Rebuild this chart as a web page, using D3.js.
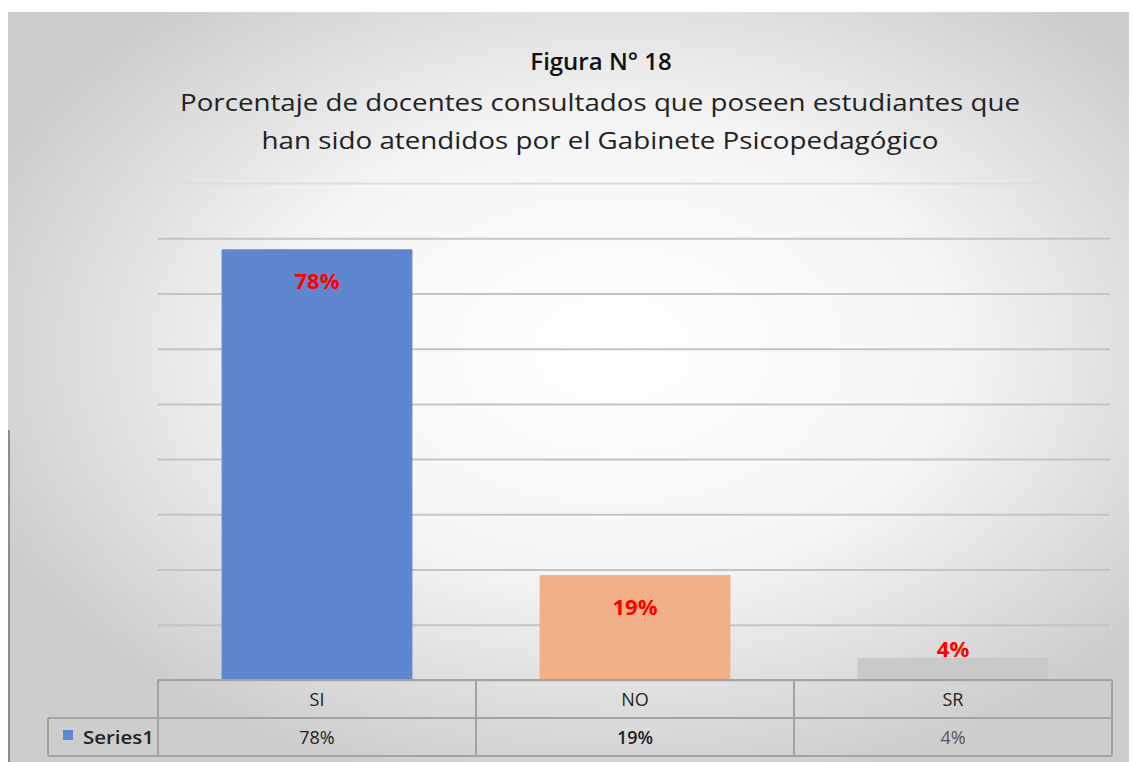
<!DOCTYPE html>
<html>
<head>
<meta charset="utf-8">
<script src="https://cdn.jsdelivr.net/npm/d3@7"></script>
<style>
  body { margin: 0; background: #fff; }
  svg { display: block; font-family: "Open Sans", sans-serif; }
</style>
</head>
<body>
<div id="chart1"></div>
<script>
// data
var categories = ["SI", "NO", "SR"];
var values = [0.78, 0.19, 0.04];
var valueLabels = ["78%", "19%", "4%"];
var barColors = ["#5f87d0", "#f1b087", "#c9c9c9"];
var seriesName = "Series1";
var titleLines = ["Porcentaje de docentes consultados que poseen estudiantes que",
                  "han sido atendidos por el Gabinete Psicopedagógico"];

var w = 1133;
var h = 762;

var svg = d3.select("#chart1")
    .append("svg")
    .attr("width", w)
    .attr("height", h);

// background gradient
var defs = svg.append("defs");
var grad = defs.append("radialGradient")
    .attr("id", "bg")
    .attr("cx", "54%").attr("cy", "45%").attr("r", "60%");
grad.append("stop").attr("offset", "0%").attr("stop-color", "#ffffff");
grad.append("stop").attr("offset", "50%").attr("stop-color", "#f5f5f5");
grad.append("stop").attr("offset", "100%").attr("stop-color", "#cdcdcd");

svg.append("rect")
    .attr("x", 8).attr("y", 12)
    .attr("width", w - 12).attr("height", h - 12)
    .attr("fill", "url(#bg)");

svg.append("line")
    .attr("x1", 9).attr("y1", 430).attr("x2", 9).attr("y2", h)
    .attr("stroke", "#777").attr("stroke-width", 1.5);

// scales
var left = 158, right = 1112, baseY = 680, topY = 183;

var xScale = d3.scaleBand()
    .domain(categories)
    .range([left, right])
    .paddingInner(0.4)
    .paddingOuter(0.2);

var yScale = d3.scaleLinear()
    .domain([0, 0.9])
    .range([baseY, topY]);

// gridlines
svg.append("g")
    .attr("class", "grid")
    .attr("transform", "translate(" + left + ",0)")
    .call(d3.axisLeft(yScale).tickValues(d3.range(0, 0.91, 0.1)).tickSize(-(right - left - 2)).tickFormat(""))
    .call(function(g) { g.select(".domain").remove(); })
    .selectAll("line")
    .attr("stroke", function(d) { return d > 0.85 ? "#dedede" : "#c4c4c4"; })
    .attr("stroke-width", 2);

// bars
svg.selectAll(".bar")
    .data(values)
    .enter()
    .append("rect")
    .attr("class", "bar")
    .attr("x", function(d, i) { return xScale(categories[i]); })
    .attr("y", function(d) { return yScale(d); })
    .attr("width", xScale.bandwidth())
    .attr("height", function(d) { return baseY - yScale(d); })
    .attr("fill", function(d, i) { return barColors[i]; });

// data labels (inside the bar, or just above it when the bar is too short)
svg.selectAll(".lbl")
    .data(values)
    .enter()
    .append("text")
    .attr("class", "lbl")
    .attr("x", function(d, i) { return xScale(categories[i]) + xScale.bandwidth() / 2; })
    .attr("y", function(d) {
        var hh = baseY - yScale(d);
        return hh > 40 ? yScale(d) + 40 : yScale(d) - 1;
    })
    .attr("text-anchor", "middle")
    .attr("fill", "#ff0000")
    .attr("font-weight", "bold")
    .attr("font-size", 22)
    .text(function(d, i) { return valueLabels[i]; });

// titles
svg.append("text")
    .attr("x", 601).attr("y", 70)
    .attr("text-anchor", "middle")
    .attr("font-weight", "600")
    .attr("font-size", 24)
    .attr("fill", "#111")
    .text("Figura N° 18");

svg.selectAll(".sub")
    .data(titleLines)
    .enter()
    .append("text")
    .attr("class", "sub")
    .attr("x", 600)
    .attr("y", function(d, i) { return 111 + i * 38; })
    .attr("text-anchor", "middle")
    .attr("font-size", 24)
    .attr("fill", "#222")
    .attr("textLength", function(d, i) { return i === 0 ? 840 : 677; })
    .attr("lengthAdjust", "spacingAndGlyphs")
    .text(function(d) { return d; });

// data table
var rowH = 38;
var table = svg.append("g").attr("stroke", "#a3a3a3").attr("stroke-width", 2).attr("fill", "none");
table.append("line").attr("x1", left).attr("x2", right).attr("y1", baseY).attr("y2", baseY);
table.append("line").attr("x1", 48).attr("x2", right).attr("y1", baseY + rowH).attr("y2", baseY + rowH);
table.append("line").attr("x1", 48).attr("x2", right).attr("y1", baseY + 2 * rowH).attr("y2", baseY + 2 * rowH);
table.append("line").attr("x1", 48).attr("x2", 48).attr("y1", baseY + rowH).attr("y2", baseY + 2 * rowH);
d3.range(categories.length + 1).forEach(function(i) {
    var xx = left + i * xScale.step();
    table.append("line").attr("x1", xx).attr("x2", xx).attr("y1", baseY).attr("y2", baseY + 2 * rowH);
});

svg.selectAll(".cat")
    .data(categories)
    .enter()
    .append("text")
    .attr("class", "cat")
    .attr("x", function(d) { return xScale(d) + xScale.bandwidth() / 2; })
    .attr("y", baseY + 26)
    .attr("text-anchor", "middle")
    .attr("font-size", 18)
    .attr("fill", "#222")
    .text(function(d) { return d; });

svg.selectAll(".val")
    .data(valueLabels)
    .enter()
    .append("text")
    .attr("class", "val")
    .attr("x", function(d, i) { return xScale(categories[i]) + xScale.bandwidth() / 2; })
    .attr("y", baseY + rowH + 26)
    .attr("text-anchor", "middle")
    .attr("font-size", 18)
    .attr("font-weight", function(d, i) { return i === 1 ? "600" : "normal"; })
    .attr("fill", function(d, i) { return i === 2 ? "#555" : "#222"; })
    .text(function(d) { return d; });

// legend key
svg.append("rect")
    .attr("x", 63).attr("y", 730)
    .attr("width", 10).attr("height", 10)
    .attr("fill", barColors[0]);

svg.append("text")
    .attr("x", 83).attr("y", baseY + rowH + 26)
    .attr("font-size", 18)
    .attr("font-weight", "600")
    .attr("fill", "#222")
    .attr("textLength", 71)
    .attr("lengthAdjust", "spacingAndGlyphs")
    .text(seriesName);
</script>
</body>
</html>
